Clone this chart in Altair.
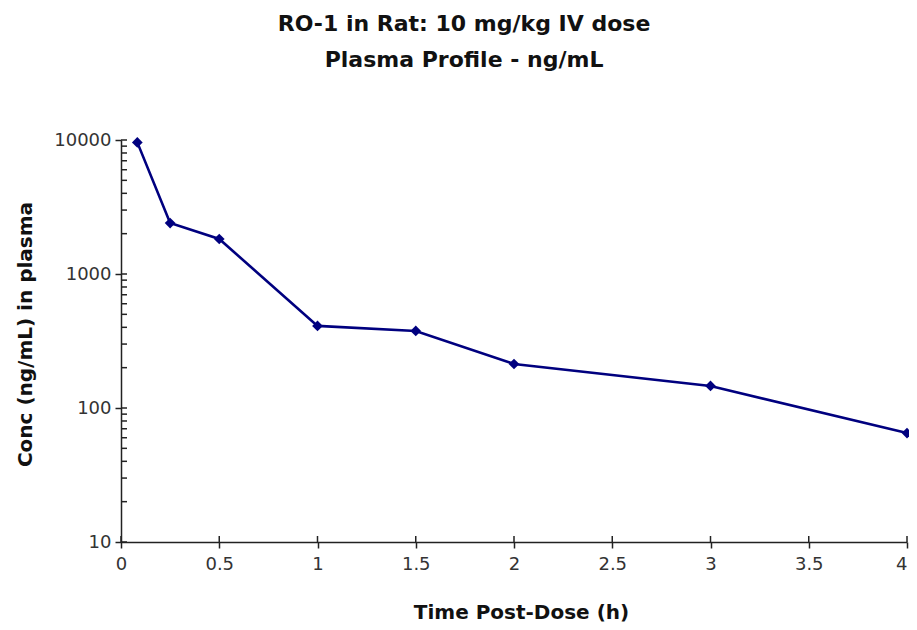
import altair as alt
import pandas as pd

time_h = [0.083, 0.25, 0.5, 1, 1.5, 2, 3, 4]
conc = [9600, 2400, 1825, 410, 376, 213, 146, 65]

x_ticks = [0, 0.5, 1, 1.5, 2, 2.5, 3, 3.5, 4]
y_major = [10, 100, 1000, 10000]
y_minor = [m * 10 ** e for e in range(1, 4) for m in range(1, 10)] + [10000]

df = pd.DataFrame({"t": time_h, "c": conc})
df_yminor = pd.DataFrame({"c": y_minor})
df_xticks = pd.DataFrame({"t": x_ticks})

navy = "#00007f"
W, H = 786, 402

xscale = alt.Scale(domain=[0, 4], nice=False)
yscale = alt.Scale(type="log", domain=[10, 10000], nice=False)

main = alt.Chart(df).encode(
    x=alt.X(
        "t:Q",
        scale=xscale,
        axis=alt.Axis(
            title="Time Post-Dose (h)",
            values=x_ticks,
            format="~g",
            grid=False,
            tickSize=6,
            labelPadding=7,
            titlePadding=29,
            titleX=400,
            labelAlign={"condition": {"test": "datum.value == 4", "value": "right"}, "value": "center"},
        ),
    ),
    y=alt.Y(
        "c:Q",
        scale=yscale,
        axis=alt.Axis(
            title="Conc (ng/mL) in plasma",
            values=y_major,
            format="d",
            grid=False,
            tickSize=6,
            labelPadding=4,
            titlePadding=18,
            titleY=194,
        ),
    ),
)

line = main.mark_line(color=navy, strokeWidth=2.6)
pts = main.mark_point(shape="diamond", filled=True, color=navy, size=115, opacity=1)

# minor ticks pointing into the plot from the y axis
yminor = alt.Chart(df_yminor).mark_rule(color="#222", strokeWidth=1.5).encode(
    y=alt.Y("c:Q", scale=yscale),
    x=alt.value(0),
    x2=alt.value(6),
)
# x ticks also cross the axis line upwards
xin = alt.Chart(df_xticks).mark_rule(color="#222", strokeWidth=1.5).encode(
    x=alt.X("t:Q", scale=xscale),
    y=alt.value(H),
    y2=alt.value(H - 6),
)

chart = (
    alt.layer(yminor, xin, line, pts)
    .properties(
        width=W,
        height=H,
        autosize=alt.AutoSizeParams(type="none"),
        padding={"left": 113, "top": 132, "right": 2, "bottom": 80},
        title=alt.TitleParams(
            text=["RO-1 in Rat: 10 mg/kg IV dose", "Plasma Profile - ng/mL"],
            anchor="middle",
            frame="bounds",
            font="DejaVu Sans",
            fontSize=22,
            fontWeight="bold",
            lineHeight=36,
            color="#111",
            offset=59,
        ),
    )
    .configure_view(stroke=None)
    .configure_axis(
        labelFont="DejaVu Sans",
        labelFontSize=18,
        labelColor="#333",
        titleFont="DejaVu Sans",
        titleFontSize=20,
        titleFontWeight="bold",
        titleColor="#111",
        domainColor="#222",
        tickColor="#222",
        domainWidth=1.5,
        tickWidth=1.5,
    )
)

chart.save("out.html", embed_options={"renderer": "svg", "actions": False})
